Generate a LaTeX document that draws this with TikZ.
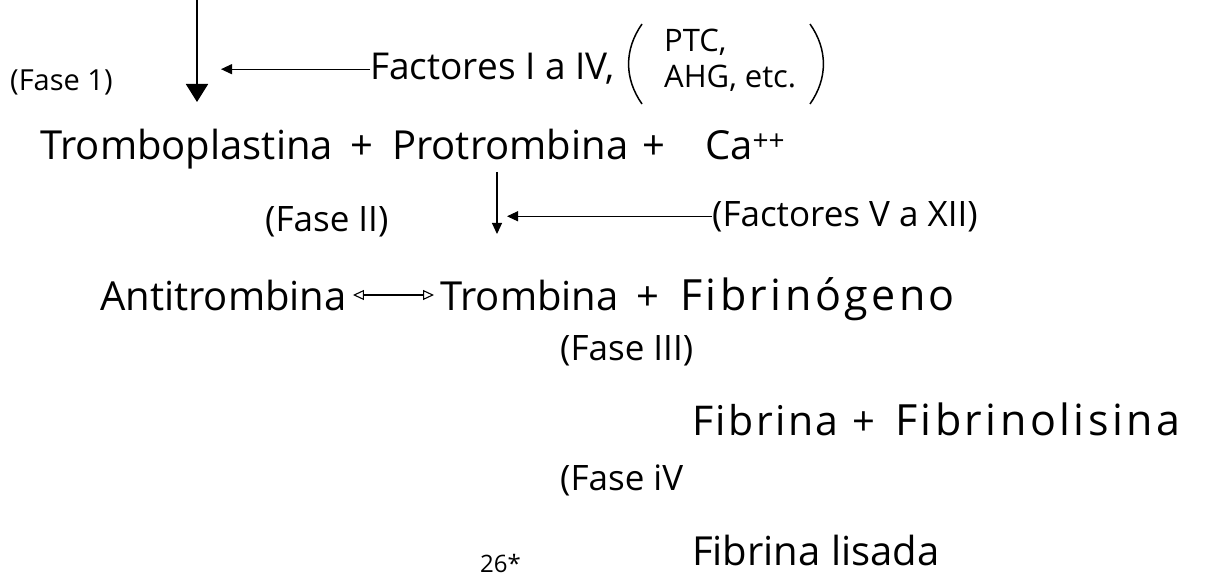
\documentclass[tikz,border=0pt]{standalone}
\usepackage{fontspec}
\setmainfont{Open Sans}
\usetikzlibrary{arrows.meta,positioning}

\begin{document}
\begin{tikzpicture}[x=1pt,y=-1pt]
\tikzstyle{term}=[font=\fontsize{40}{48}\selectfont, inner sep=0pt, anchor=base west]
\tikzstyle{wideterm}=[font=\fontsize{43}{48}\selectfont\addfontfeatures{LetterSpace=8}, inner sep=0pt, anchor=base west]
\tikzstyle{phase}=[font=\fontsize{35}{40}\selectfont, inner sep=0pt, anchor=base west]
\tikzstyle{note}=[font=\fontsize{29}{33}\selectfont, inner sep=0pt, anchor=base west]
\tikzstyle{flow}=[line width=1.8pt, -{Triangle[width=22pt,length=18pt]}]
\tikzstyle{feed}=[line width=1.1pt, -{Triangle[width=10pt,length=11pt]}]
\tikzstyle{paren}=[line width=1.5pt]

\useasboundingbox (0,0) rectangle (1218,580);

%% ========== FASE I ==========
\coordinate (f1-top) at (197,0);
\coordinate (f1-tip) at (197,102);
\draw[flow] (f1-top) -- (f1-tip);
\node[note] (fase1) at (10,91) {(Fase 1)};
\node[phase, font=\fontsize{37}{42}\selectfont] (fact1) at (370,80) {Factores I a IV,};
\node[note, font=\fontsize{31}{36}\selectfont, align=left, anchor=west] (ptc) at (664,60) {PTC,\\AHG, etc.};
\coordinate (lp-top) at (642,24);
\coordinate (lp-bot) at (642,104);
\coordinate (rp-top) at (810,24);
\coordinate (rp-bot) at (810,104);
\draw[paren] (lp-top) to[bend right=35] (lp-bot);
\draw[paren] (rp-top) to[bend left=35] (rp-bot);
\draw[feed] (fact1.west) -- (fact1.west -| f1-tip) [shorten >=24pt];

%% ========== FASE II ==========
\node[term] (trombopl) at (40,160) {Tromboplastina};
\node[term] (plus1) at (350,160) {+};
\node[term] (protromb) at (392,160) {Protrombina};
\node[term] (plus2) at (642,160) {+};
\node[term] (calcio) at (705,160) {Ca\textsuperscript{++}};

\node[phase] (fase2) at (265,232) {(Fase II)};
\coordinate (f2-top) at (497,172);
\coordinate (f2-tip) at (497,234);
\draw[feed] (f2-top) -- (f2-tip);
\node[phase] (fact5) at (712,226) {(Factores V a XII)};
\draw[feed] (fact5.west) -- (fact5.west -| f2-tip) [shorten >=10pt];

%% ========== FASE III ==========
\node[term] (antitromb) at (100,310) {Antitrombina};
\node[term] (tromb) at (440,310) {Trombina};
\node[term] (plus3) at (636,310) {+};
\node[wideterm] (fibrinog) at (680,310) {Fibrinógeno};
\draw[line width=1.1pt, {Triangle[open,width=10pt,length=11pt]}-{Triangle[open,width=10pt,length=11pt]}]
    ([xshift=6pt]antitromb.east) -- ([xshift=-6pt]tromb.west);

\node[phase] (fase3) at (560,360) {(Fase III)};

%% ========== FASE IV ==========
\node[wideterm, font=\fontsize{41}{48}\selectfont\addfontfeatures{LetterSpace=6}] (fibrina) at (692,435) {Fibrina};
\node[term] (plus4) at (852,435) {+};
\node[wideterm] (fibrinol) at (895,435) {Fibrinolisina};

\node[phase] (fase4) at (560,490) {(Fase iV};
\node[term] (lisada) at (692,565) {Fibrina lisada};

\node[note, font=\fontsize{24}{28}\selectfont] (pagina) at (480,572) {26*};

\end{tikzpicture}
\end{document}
